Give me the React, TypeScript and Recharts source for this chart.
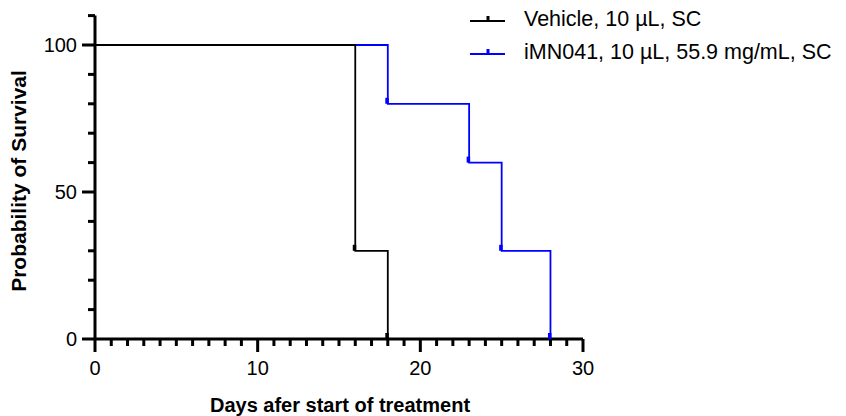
import { Line, LineChart, XAxis, YAxis } from "recharts";

const vehicleDays = [0, 16, 18];
const vehicleSurvival = [100, 30, 0];
const imnDays = [0, 18, 23, 25, 28];
const imnSurvival = [100, 80, 60, 30, 0];

const xTicks = Array.from({ length: 31 }, (_, i) => i);
const xLabels = [0, 10, 20, 30];
const yTicks = [0, 10, 20, 30, 40, 50, 60, 70, 80, 90, 100, 110];
const yLabels = [0, 50, 100];

const vehicle = vehicleDays.map((d, i) => ({ day: d, value: vehicleSurvival[i] }));
const imn = imnDays.map((d, i) => ({ day: d, value: imnSurvival[i] }));

const series = [
  { name: "Vehicle, 10 µL, SC", color: "#000000" },
  { name: "iMN041, 10 µL, 55.9 mg/mL, SC", color: "#0000FF" },
];

const FONT = "Arial, 'Liberation Sans', sans-serif";

const XTick = (props: any) => {
  const { x, y, payload } = props;
  const major = xLabels.includes(payload.value);
  return (
    <g>
      <line x1={x} x2={x} y1={y} y2={y + (major ? 13 : 7)} stroke="#000" strokeWidth={3} />
      {major && (
        <text x={x} y={y + 36} textAnchor="middle" fontSize={20} fontFamily={FONT} fill="#000">
          {payload.value}
        </text>
      )}
    </g>
  );
};

const YTick = (props: any) => {
  const { x, y, payload } = props;
  const major = yLabels.includes(payload.value);
  return (
    <g>
      <line x1={x} x2={x - (major ? 13 : 7)} y1={y} y2={y} stroke="#000" strokeWidth={3} />
      {major && (
        <text x={x - 18} y={y + 7} textAnchor="end" fontSize={20} fontFamily={FONT} fill="#000">
          {payload.value}
        </text>
      )}
    </g>
  );
};

const CensorDot = (color: string) => (props: any) => {
  const { cx, cy, index } = props;
  if (index === 0) return <g key={`d${index}`} />;
  return <rect key={`d${index}`} x={cx - 2.5} y={cy - 6} width={3.5} height={6} fill={color} />;
};

export default function App() {
  return (
    <div style={{ position: "absolute", left: 0, top: 0, width: 846, height: 416, background: "#fff" }}>
      <LineChart width={846} height={416} margin={{ top: 15.6, right: 263, bottom: 0, left: 0 }}>
        <XAxis
          type="number"
          dataKey="day"
          domain={[0, 30]}
          ticks={xTicks}
          interval={0}
          tickSize={0}
          tickMargin={0}
          tickLine={false}
          tick={<XTick />}
          axisLine={{ stroke: "#000", strokeWidth: 3 }}
          height={77}
          allowDuplicatedCategory={false}
        />
        <YAxis
          type="number"
          dataKey="value"
          domain={[0, 110]}
          ticks={yTicks}
          interval={0}
          tickSize={0}
          tickMargin={0}
          tickLine={false}
          tick={<YTick />}
          axisLine={{ stroke: "#000", strokeWidth: 3 }}
          width={95}
        />
        <Line
          data={imn}
          dataKey="value"
          name={series[1].name}
          type="stepAfter"
          stroke={series[1].color}
          strokeWidth={1.8}
          dot={CensorDot(series[1].color)}
          activeDot={false}
          isAnimationActive={false}
        />
        <Line
          data={vehicle}
          dataKey="value"
          name={series[0].name}
          type="stepAfter"
          stroke={series[0].color}
          strokeWidth={1.8}
          dot={CensorDot(series[0].color)}
          activeDot={false}
          isAnimationActive={false}
        />
      </LineChart>
      <div style={{ position: "absolute", left: 470, top: 3, fontFamily: FONT, fontSize: 21.5, color: "#000" }}>
        {series.map((s) => (
          <div key={s.name} style={{ display: "flex", alignItems: "center", height: 33 }}>
            <svg width={54} height={20}>
              <line x1={0} x2={35} y1={11} y2={11} stroke={s.color} strokeWidth={1.8} />
              <line x1={18} x2={18} y1={6} y2={11} stroke={s.color} strokeWidth={3} />
            </svg>
            <span>{s.name}</span>
          </div>
        ))}
      </div>
      <div
        style={{
          position: "absolute",
          left: 19,
          top: 181,
          transform: "translate(-50%, -50%) rotate(-90deg)",
          whiteSpace: "nowrap",
          fontFamily: FONT,
          fontWeight: "bold",
          fontSize: 21,
        }}
      >
        Probability of Survival
      </div>
      <div
        style={{
          position: "absolute",
          left: 340,
          top: 405,
          transform: "translate(-50%, -50%)",
          whiteSpace: "nowrap",
          fontFamily: FONT,
          fontWeight: "bold",
          fontSize: 20,
        }}
      >
        Days afer start of treatment
      </div>
    </div>
  );
}
